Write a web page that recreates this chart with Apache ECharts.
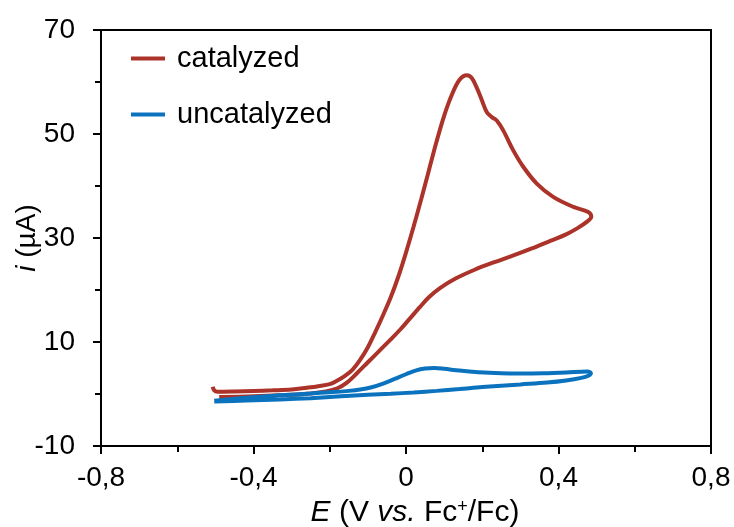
<!DOCTYPE html>
<html>
<head>
<meta charset="utf-8">
<script src="https://cdn.jsdelivr.net/npm/echarts@6/dist/echarts.min.js"></script>
<style>
  html, body { margin: 0; padding: 0; background: #fff; }
  #chart { width: 734px; height: 527px; }
</style>
</head>
<body>
<div id="chart"></div>
<script>
// potential (V vs Fc+/Fc) and current (uA), in scan order
var catalyzedE = [-0.507, -0.503, -0.495, -0.45, -0.4, -0.35, -0.3, -0.26, -0.23, -0.2, -0.18, -0.16, -0.14, -0.12, -0.1, -0.08, -0.06, -0.04, -0.02, 0.0, 0.02, 0.04, 0.06, 0.08, 0.1, 0.12, 0.14, 0.16, 0.172, 0.185, 0.199, 0.212, 0.225, 0.238, 0.255, 0.281, 0.308, 0.343, 0.386, 0.439, 0.478, 0.486, 0.474, 0.45, 0.42, 0.38, 0.33, 0.28, 0.23, 0.18, 0.13, 0.09, 0.06, 0.035, 0.01, -0.015, -0.04, -0.07, -0.1, -0.13, -0.155, -0.18, -0.21, -0.25, -0.3, -0.4, -0.49];
var catalyzedI = [1.4, 0.7, 0.45, 0.5, 0.6, 0.7, 0.85, 1.2, 1.5, 1.9, 2.6, 3.5, 4.7, 6.6, 9.0, 12.0, 15.2, 18.6, 22.6, 27.2, 32.2, 37.5, 43.0, 48.5, 53.5, 57.5, 60.4, 61.3, 60.8, 59.0, 56.5, 54.2, 53.25, 52.6, 50.7, 46.9, 43.65, 40.46, 37.9, 35.97, 35.0, 34.1, 33.1, 31.9, 30.7, 29.5, 28.0, 26.6, 25.3, 23.9, 22.2, 20.4, 18.6, 16.6, 14.5, 12.4, 10.5, 8.3, 6.1, 3.9, 2.2, 1.1, 0.5, 0.1, -0.15, -0.45, -0.6];

var uncatalyzedE = [-0.503, -0.45, -0.4, -0.33, -0.25, -0.2, -0.15, -0.12, -0.09, -0.06, -0.03, 0.0, 0.025, 0.05, 0.075, 0.1, 0.14, 0.19, 0.25, 0.3, 0.36, 0.42, 0.476, 0.485, 0.478, 0.46, 0.42, 0.37, 0.3, 0.2, 0.14, 0.08, 0.02, -0.04, -0.1, -0.17, -0.25, -0.33, -0.42, -0.503];
var uncatalyzedI = [-1.3, -0.9, -0.6, -0.25, 0.1, 0.35, 0.6, 0.85, 1.3, 2.0, 2.9, 3.8, 4.5, 4.9, 5.0, 4.85, 4.5, 4.2, 4.0, 3.95, 4.0, 4.15, 4.35, 4.0, 3.5, 3.1, 2.6, 2.2, 1.85, 1.35, 0.95, 0.6, 0.3, 0.05, -0.15, -0.45, -0.8, -1.05, -1.25, -1.45];

var xTicks = [-0.8, 0.8, 0.4];   // min, max, interval
var yTicks = [-10, 70, 20];

function zip(a, b) {
  var out = [];
  for (var i = 0; i < a.length; i++) out.push([a[i], b[i]]);
  return out;
}

var font = "'Liberation Sans', Arial, sans-serif";
var myChart = echarts.init(document.getElementById('chart'));
var option = {
  animation: false,
  backgroundColor: '#fff',
  grid: {
    left: 101, right: 23, top: 30, bottom: 81,
    outerBoundsMode: 'none',
    show: true, borderColor: '#000', borderWidth: 2
  },
  legend: {
    orient: 'vertical',
    left: 126, top: 39,
    icon: 'rect',
    itemWidth: 34, itemHeight: 4,
    itemGap: 27,
    textStyle: { fontFamily: font, fontSize: 29, color: '#000', padding: [0, 0, 0, 7] },
    data: ['catalyzed', 'uncatalyzed']
  },
  xAxis: {
    type: 'value',
    min: xTicks[0], max: xTicks[1], interval: xTicks[2],
    splitLine: { show: false },
    axisLine: { onZero: false, lineStyle: { color: '#000', width: 2 } },
    axisTick: { show: true, length: 8, lineStyle: { color: '#000', width: 2 } },
    minorTick: { show: true, splitNumber: 2, length: 6, lineStyle: { color: '#000', width: 2 } },
    axisLabel: {
      fontFamily: font, fontSize: 28, color: '#000', margin: 18,
      formatter: function (v) { return String(+v.toFixed(1)).replace('.', ','); }
    },
    name: '{i|E} (V {i|vs.} Fc{sup|+}/Fc)',
    nameLocation: 'middle',
    nameGap: 52,
    nameMoveOverlap: false,
    nameTextStyle: {
      fontFamily: font, fontSize: 30, color: '#000', padding: [0, 0, 0, 18],
      rich: {
        i: { fontFamily: font, fontSize: 30, fontStyle: 'italic', color: '#000' },
        sup: { fontFamily: font, fontSize: 18, color: '#000', verticalAlign: 'top' }
      }
    }
  },
  yAxis: {
    type: 'value',
    min: yTicks[0], max: yTicks[1], interval: yTicks[2],
    splitLine: { show: false },
    axisLine: { show: true, onZero: false, lineStyle: { color: '#000', width: 2 } },
    axisTick: { show: true, length: 8, lineStyle: { color: '#000', width: 2 } },
    minorTick: { show: true, splitNumber: 2, length: 6, lineStyle: { color: '#000', width: 2 } },
    axisLabel: { fontFamily: font, fontSize: 28, color: '#000', margin: 26 },
    name: '{i|i} (µA)',
    nameLocation: 'middle',
    nameGap: 60,
    nameMoveOverlap: false,
    nameTextStyle: {
      fontFamily: font, fontSize: 28, color: '#000',
      rich: { i: { fontFamily: font, fontSize: 28, fontStyle: 'italic', color: '#000' } }
    }
  },
  series: [
    {
      name: 'catalyzed', type: 'line',
      data: zip(catalyzedE, catalyzedI),
      showSymbol: false, symbol: 'none', smooth: 0.35,
      color: '#AB3329',
      lineStyle: { width: 4, color: '#AB3329' }
    },
    {
      name: 'uncatalyzed', type: 'line',
      data: zip(uncatalyzedE, uncatalyzedI),
      showSymbol: false, symbol: 'none', smooth: 0.35,
      color: '#0B72BE',
      lineStyle: { width: 4, color: '#0B72BE' }
    }
  ]
};
myChart.setOption(option);
</script>
</body>
</html>
